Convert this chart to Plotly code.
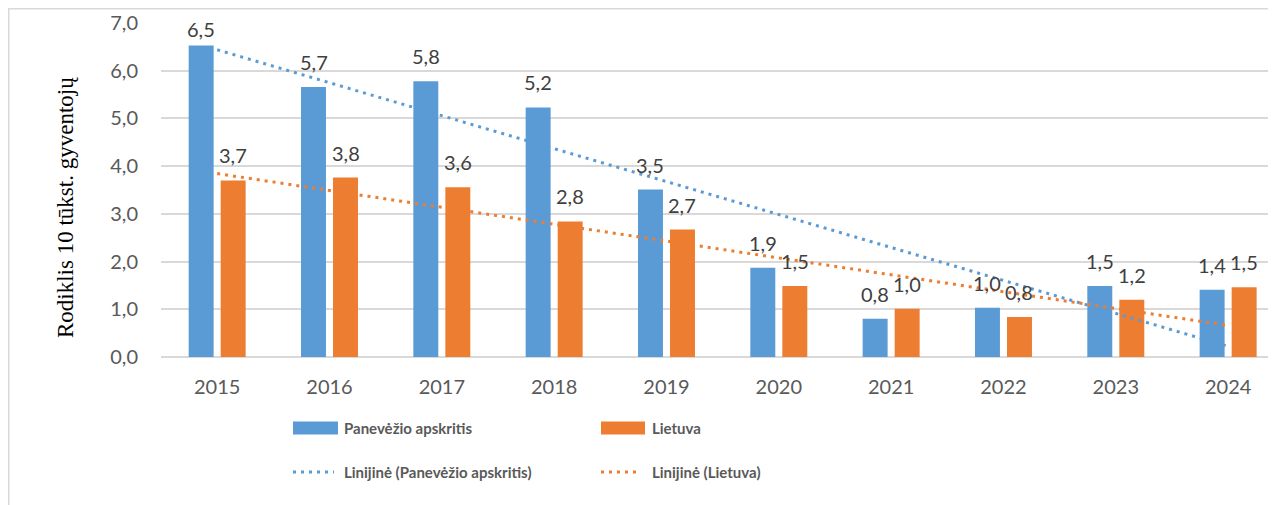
import numpy as np
import plotly.graph_objects as go

years = ["2015", "2016", "2017", "2018", "2019", "2020", "2021", "2022", "2023", "2024"]
panevezio = [6.53, 5.66, 5.78, 5.23, 3.51, 1.87, 0.80, 1.03, 1.49, 1.41]
lietuva = [3.70, 3.76, 3.56, 2.84, 2.67, 1.49, 1.01, 0.84, 1.20, 1.46]
y_ticks = [0, 1, 2, 3, 4, 5, 6, 7]

name_p = "Panevėžio apskritis"
name_l = "Lietuva"
trend_p = "Linijinė (Panevėžio apskritis)"
trend_l = "Linijinė (Lietuva)"
y_title = "Rodiklis 10 tūkst. gyventojų"

BLUE = "#5B9BD5"
ORANGE = "#ED7D31"
GRID = "#D9D9D9"
TICK = "#595959"
LABEL = "#404040"
FONT = "Lato, 'Open Sans', sans-serif"

# the page body has an 8px default margin: work in screen pixels and convert
OFF = 8
SW, SH = 1276, 505
W, H = SW - OFF, SH - OFF
L, R, T, B = 161, 1276, 23, 357          # plot area in screen pixels
PW, PH = R - L, B - T


def px(x):
    return (x - L) / PW


def py(y):
    return (B - y) / PH


def fmt(v):
    return f"{v:.1f}".replace(".", ",")


idx = np.arange(len(years))
fit_p = np.polyval(np.polyfit(idx, panevezio, 1), idx)
fit_l = np.polyval(np.polyfit(idx, lietuva, 1), idx)

fig = go.Figure()
fig.add_trace(go.Bar(x=years, y=panevezio, name=name_p, marker=dict(color=BLUE, line=dict(width=0))))
fig.add_trace(go.Bar(x=years, y=lietuva, name=name_l, marker=dict(color=ORANGE, line=dict(width=0))))
fig.add_trace(go.Scatter(x=years, y=fit_p, name=trend_p, mode="lines",
                         line=dict(color=BLUE, width=3, dash="3px,5px")))
fig.add_trace(go.Scatter(x=years, y=fit_l, name=trend_l, mode="lines",
                         line=dict(color=ORANGE, width=3, dash="3px,5px")))

annotations = []
unit = PH / 7.0
for series, dx in ((panevezio, -16), (lietuva, 16)):
    for i, v in enumerate(series):
        ys = min(11, (PH + 6) - v * unit - 26)
        annotations.append(dict(x=int(i), y=v, xref="x", yref="y", text=fmt(v), showarrow=False,
                                xshift=dx, yshift=ys, yanchor="bottom",
                                font=dict(family=FONT, size=20, color=LABEL)))

annotations.append(dict(x=px(65), y=py(208), xref="paper", yref="paper", text=y_title,
                        textangle=-90, showarrow=False, xanchor="center", yanchor="middle",
                        font=dict(family="'Liberation Serif', 'Times New Roman', serif", size=23,
                                  color="#000000")))

# legend (drawn manually to match the 2x2 layout)
legend_items = [
    (name_p, BLUE, "bar", 293, 338, 428),
    (name_l, ORANGE, "bar", 601, 645, 428),
    (trend_p, BLUE, "line", 293, 334, 472),
    (trend_l, ORANGE, "line", 601, 641, 472),
]
shapes = [dict(type="rect", xref="paper", yref="paper",
               x0=px(OFF + 0.75), x1=px(SW + 40), y0=py(OFF + 0.75), y1=py(SH + 40),
               line=dict(color=GRID, width=1.5), layer="below")]
for text, col, kind, x0, x1, yc in legend_items:
    if kind == "bar":
        shapes.append(dict(type="rect", xref="paper", yref="paper", x0=px(x0), x1=px(x1),
                           y0=py(yc - 6.5), y1=py(yc + 6.5), fillcolor=col, line=dict(width=0)))
    else:
        shapes.append(dict(type="line", xref="paper", yref="paper", x0=px(x0), x1=px(x1),
                           y0=py(yc), y1=py(yc), line=dict(color=col, width=3, dash="3px,5px")))
    annotations.append(dict(x=px(x0 + 49), y=py(yc), xref="paper", yref="paper",
                            text=f"<b>{text}</b>", showarrow=False, xanchor="left", yanchor="middle",
                            font=dict(family=FONT, size=15, color=TICK)))

fig.update_layout(
    template="none",
    width=W, height=H,
    margin=dict(l=L - OFF, r=SW - R, t=T - OFF, b=SH - B, pad=0, autoexpand=False),
    paper_bgcolor="white", plot_bgcolor="white",
    separators=", ",
    barmode="group", bargap=0.43, bargroupgap=0.22,
    showlegend=False,
    annotations=annotations,
    shapes=shapes,
    font=dict(family=FONT, size=20, color=TICK),
)
fig.update_xaxes(type="category", range=[-0.5, -0.5 + PW / 112.33], showgrid=False, showline=False,
                 zeroline=False, ticks="", ticklabelstandoff=16, automargin=False,
                 tickfont=dict(family=FONT, size=20, color=TICK))
fig.update_yaxes(range=[0, 7], tickvals=y_ticks, tickformat=".1f", showgrid=True, gridcolor=GRID,
                 gridwidth=1.5, zeroline=True, zerolinecolor=GRID, zerolinewidth=1.5, showline=False,
                 ticks="", ticklabelstandoff=22, automargin=False,
                 tickfont=dict(family=FONT, size=20, color=TICK))

fig.write_html("out.html")
